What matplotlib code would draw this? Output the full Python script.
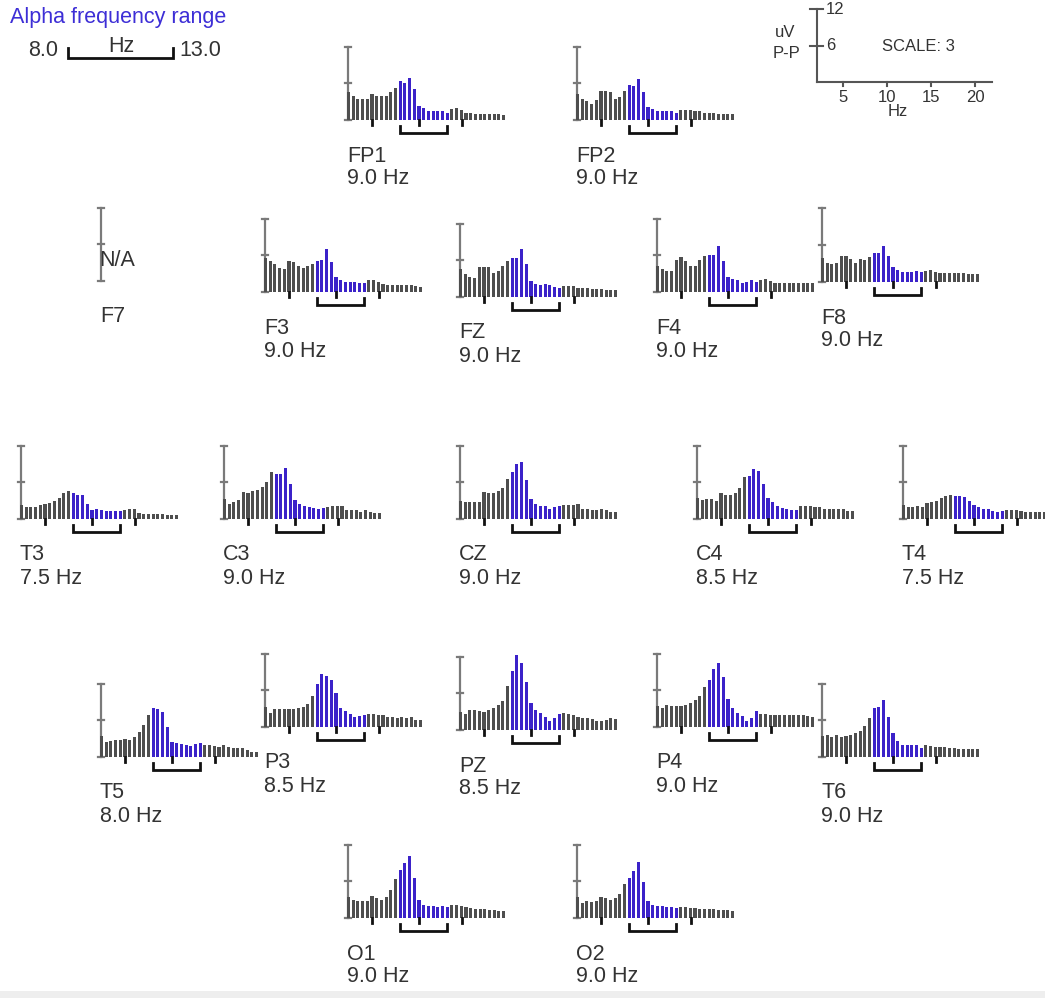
import numpy as np
import matplotlib
matplotlib.use('Agg')
import matplotlib.pyplot as plt

plt.rcParams['font.family'] = ['Liberation Sans', 'DejaVu Sans']

### Spectrum data (uV peak-to-peak per 0.5 Hz bin)
FREQS = np.arange(2.5, 19.01, 0.5)
ALPHA_LO, ALPHA_HI = 8.0, 13.0

FP1 = [4.5, 3.9, 3.5, 3.4, 3.5, 4.3, 4.0, 4.0, 4.0, 4.6, 5.3,
       6.3, 6.0, 6.9, 5.0, 2.3, 1.9, 1.5, 1.5, 1.5, 1.5, 1.2,
       1.8, 1.9, 1.6, 1.2, 1.1, 1.0, 1.0, 1.0, 1.0, 0.9, 0.9, 0.8]
FP2 = [4.3, 3.5, 3.1, 2.6, 3.3, 4.7, 4.7, 4.6, 3.5, 3.8, 4.7,
       5.7, 5.5, 6.7, 4.5, 2.1, 1.8, 1.5, 1.5, 1.5, 1.5, 1.2,
       1.6, 1.7, 1.6, 1.5, 1.4, 1.2, 1.1, 1.1, 1.0, 1.0, 1.0, 1.0]
F3 = [5.6, 5.0, 4.5, 3.9, 3.8, 5.0, 4.9, 4.2, 3.9, 4.2, 4.6,
      5.0, 5.3, 7.0, 4.9, 2.4, 1.9, 1.6, 1.6, 1.6, 1.5, 1.4,
      1.9, 2.0, 1.6, 1.3, 1.2, 1.2, 1.2, 1.2, 1.1, 1.1, 0.9, 0.8]
FZ = [4.5, 3.7, 3.3, 3.1, 4.9, 4.9, 4.9, 3.9, 4.2, 5.0, 5.8,
      6.3, 6.3, 7.9, 5.4, 2.6, 2.2, 1.9, 2.1, 1.9, 1.6, 1.4,
      1.8, 1.8, 1.8, 1.5, 1.4, 1.4, 1.3, 1.3, 1.3, 1.2, 1.2, 1.1]
F4 = [4.2, 3.7, 3.5, 3.5, 5.3, 5.7, 5.1, 4.2, 4.2, 5.3, 5.8,
      6.0, 6.1, 7.5, 5.0, 2.4, 2.2, 1.9, 1.5, 1.7, 1.9, 1.6,
      1.9, 2.1, 1.8, 1.4, 1.4, 1.4, 1.4, 1.4, 1.4, 1.4, 1.4, 1.4]
F8 = [3.9, 3.1, 3.0, 3.1, 4.2, 4.3, 3.8, 3.1, 3.8, 3.6, 4.0,
      4.8, 4.8, 5.8, 4.3, 2.4, 2.0, 1.7, 1.6, 1.6, 1.8, 1.6,
      1.8, 1.9, 1.7, 1.5, 1.5, 1.5, 1.4, 1.4, 1.4, 1.3, 1.3, 1.3]
T3 = [2.3, 1.9, 1.9, 1.9, 2.3, 2.5, 2.6, 3.0, 3.5, 4.2, 4.5,
      4.2, 4.0, 3.9, 2.4, 1.5, 1.6, 1.5, 1.3, 1.3, 1.3, 1.3,
      1.5, 1.6, 1.6, 0.9, 0.8, 0.8, 0.8, 0.8, 0.8, 0.7, 0.7, 0.7]
C3 = [3.2, 2.5, 2.8, 3.1, 4.4, 4.2, 4.5, 4.7, 5.2, 6.1, 7.6,
      7.4, 7.4, 8.4, 5.7, 3.1, 2.5, 2.2, 2.0, 1.8, 1.6, 1.8,
      2.0, 2.1, 2.2, 2.2, 1.4, 1.4, 1.4, 1.2, 1.4, 1.1, 1.0, 1.0]
CZ = [2.9, 2.8, 2.8, 2.8, 2.7, 4.4, 4.3, 4.3, 4.6, 5.0, 6.6,
      7.7, 8.9, 9.3, 6.4, 3.3, 2.5, 2.2, 2.1, 1.7, 1.9, 2.1,
      2.3, 2.3, 2.3, 2.5, 1.6, 1.6, 1.4, 1.4, 1.6, 1.4, 1.1, 1.1]
C4 = [3.4, 3.1, 3.2, 3.3, 2.9, 4.2, 4.0, 4.0, 4.3, 5.1, 6.9,
      7.0, 8.1, 7.9, 5.7, 3.5, 2.8, 2.2, 1.8, 1.6, 1.4, 1.5,
      2.1, 2.1, 2.1, 1.9, 1.9, 1.7, 1.6, 1.6, 1.7, 1.7, 1.3, 1.3]
T4 = [2.3, 2.0, 2.0, 2.2, 2.0, 2.6, 2.8, 3.0, 3.4, 3.7, 3.9,
      3.7, 3.8, 3.6, 3.0, 2.3, 1.9, 1.7, 1.7, 1.3, 1.2, 1.3,
      1.4, 1.4, 1.4, 1.3, 1.2, 1.2, 1.2, 1.1, 1.1, 1.1, 1.0, 1.0]
T5 = [3.5, 2.5, 2.6, 2.7, 2.7, 2.9, 2.8, 3.3, 4.1, 5.2, 6.8,
      8.0, 7.9, 7.4, 4.9, 2.5, 2.3, 2.2, 1.9, 1.8, 2.2, 2.3,
      1.9, 2.0, 1.8, 1.6, 1.9, 1.6, 1.4, 1.5, 1.4, 1.1, 0.8, 0.8]
P3 = [3.3, 2.3, 3.0, 3.0, 3.0, 3.0, 3.0, 3.1, 3.3, 3.7, 5.0,
      7.0, 8.7, 8.3, 7.6, 5.5, 3.1, 2.6, 2.2, 1.6, 1.8, 2.0,
      2.2, 2.2, 2.0, 1.9, 1.7, 1.6, 1.5, 1.6, 1.5, 1.6, 1.2, 1.2]
PZ = [2.9, 2.6, 3.2, 3.2, 3.1, 3.0, 3.3, 3.6, 4.1, 4.8, 7.2,
      9.7, 12.3, 10.9, 7.8, 4.4, 3.3, 2.7, 2.2, 1.5, 2.0, 2.6,
      2.7, 2.6, 2.5, 2.2, 2.0, 1.9, 1.8, 1.5, 1.5, 1.6, 1.9, 1.8]
P4 = [3.4, 3.1, 3.6, 3.5, 3.4, 3.5, 3.6, 3.9, 4.4, 5.0, 6.6,
      7.6, 9.5, 10.4, 8.1, 4.5, 3.1, 2.3, 1.8, 1.0, 1.5, 2.6,
      2.2, 2.1, 2.0, 2.0, 1.9, 1.9, 1.9, 1.9, 1.9, 1.9, 1.8, 1.6]
T6 = [3.5, 3.6, 3.3, 3.6, 3.3, 3.5, 3.6, 3.9, 4.3, 5.0, 6.3,
      8.0, 8.1, 9.3, 6.6, 4.0, 2.6, 2.0, 1.9, 1.9, 1.9, 1.5,
      1.9, 1.8, 1.7, 1.6, 1.6, 1.5, 1.5, 1.3, 1.3, 1.3, 1.3, 1.3]
O1 = [3.5, 3.0, 2.8, 2.7, 2.7, 3.6, 3.3, 2.9, 3.5, 4.5, 6.3,
      7.8, 9.0, 10.2, 6.5, 3.0, 2.2, 2.0, 2.0, 1.8, 2.0, 1.8,
      2.2, 2.2, 2.0, 1.8, 1.6, 1.5, 1.4, 1.4, 1.3, 1.3, 1.2, 1.2]
O2 = [3.5, 2.5, 2.8, 2.6, 2.8, 3.5, 3.3, 3.0, 3.3, 4.0, 5.5,
      6.6, 7.6, 9.1, 5.8, 2.8, 2.2, 2.0, 2.0, 1.8, 1.8, 1.7,
      1.8, 1.8, 1.7, 1.6, 1.5, 1.4, 1.4, 1.4, 1.3, 1.3, 1.3, 1.2]

CHANNELS = ['FP1', 'FP2', 'F3', 'FZ', 'F4', 'F8', 'T3', 'C3', 'CZ', 'C4',
            'T4', 'T5', 'P3', 'PZ', 'P4', 'T6', 'O1', 'O2']
SPECTRA = [FP1, FP2, F3, FZ, F4, F8, T3, C3, CZ, C4,
           T4, T5, P3, PZ, P4, T6, O1, O2]
PEAK_HZ = ['9.0', '9.0', '9.0', '9.0', '9.0', '9.0', '7.5', '9.0', '9.0', '8.5',
           '7.5', '8.0', '8.5', '8.5', '9.0', '9.0', '9.0', '9.0']

### Head layout, pixel position of each panel's origin (axis x, baseline y)
LAYOUT = {
    'FP1': (348, 120), 'FP2': (577, 120),
    'F7': (101, 281), 'F3': (265, 292), 'FZ': (460, 297), 'F4': (657, 292), 'F8': (822, 282),
    'T3': (21, 519), 'C3': (224, 519), 'CZ': (460, 519), 'C4': (697, 519), 'T4': (903, 519),
    'T5': (101, 757), 'P3': (265, 727), 'PZ': (460, 730), 'P4': (657, 727), 'T6': (822, 757),
    'O1': (348, 918), 'O2': (577, 918),
}

W, H = 1045, 998
PX_PER_HZ = 9.4
PANEL_W, PANEL_H = 160, 73.5
X0 = 2.45         # Hz at the vertical scale line
GRAY = '#4e4e4e'
BLUE = '#3b22c9'
AXIS_GRAY = '#7a7a7a'
TEXT = '#333333'
LABEL_SIZE = 15.5

fig = plt.figure(figsize=(W / 100, H / 100), dpi=100)
fig.patch.set_facecolor('white')


def panel_axes(ax_x, base_y):
    ax = fig.add_axes([ax_x / W, 1 - base_y / H, PANEL_W / W, PANEL_H / H])
    ax.set_xlim(X0, X0 + PANEL_W / PX_PER_HZ)
    ax.set_ylim(0, 12)
    ax.axis('off')
    return ax


def scale_line(ax):
    ax.plot([X0, X0], [0, 12], color=AXIS_GRAY, lw=1.6, clip_on=False, zorder=1)
    for yv in (0, 6, 12):
        ax.plot([X0 - 0.3, X0 + 0.3], [yv, yv], color=AXIS_GRAY, lw=1.6,
                clip_on=False, zorder=1)


def labels(ax, lines):
    for off, txt in zip((36, 59), lines):
        ax.annotate(txt, xy=(X0, 0), xycoords='data', xytext=(-1, -off),
                    textcoords='offset pixels', ha='left', va='center',
                    fontsize=LABEL_SIZE, color=TEXT)


def draw_panel(name, values, peak):
    ax = panel_axes(*LAYOUT[name])
    scale_line(ax)
    in_alpha = (FREQS >= ALPHA_LO) & (FREQS <= ALPHA_HI)
    colors = [BLUE if a else GRAY for a in in_alpha]
    ax.bar(FREQS, values, width=0.33, color=colors, clip_on=False, zorder=2)
    for t in (5, 10, 14.6):
        ax.plot([t, t], [0, -0.8], color='#111111', lw=2, clip_on=False)
    ax.plot([ALPHA_LO, ALPHA_LO, ALPHA_HI, ALPHA_HI], [-1.0, -2.15, -2.15, -1.0],
            color='#111111', lw=2, clip_on=False, solid_joinstyle='miter')
    labels(ax, [name, peak + ' Hz'])


for name, vals, pk in zip(CHANNELS, SPECTRA, PEAK_HZ):
    draw_panel(name, vals, pk)

# F7 has no usable data
ax = panel_axes(*LAYOUT['F7'])
scale_line(ax)
ax.annotate('N/A', xy=(X0, 0), xytext=(-2, 21), textcoords='offset pixels',
            ha='left', va='center', fontsize=LABEL_SIZE, color=TEXT)
labels(ax, ['F7', ''])

### Alpha range legend (top left)
fig.text(10 / W, 1 - 17 / H, 'Alpha frequency range', color='#3d2ed6',
         fontsize=15.5, ha='left', va='center')
fig.text(28 / W, 1 - 50 / H, '8.0', color=TEXT, fontsize=LABEL_SIZE, ha='left', va='center')
fig.text(179 / W, 1 - 50 / H, '13.0', color=TEXT, fontsize=LABEL_SIZE, ha='left', va='center')
fig.text(121 / W, 1 - 46 / H, 'Hz', color=TEXT, fontsize=LABEL_SIZE, ha='center', va='center')
leg = fig.add_axes([0, 0, 1, 1])
leg.set_xlim(0, W)
leg.set_ylim(H, 0)
leg.axis('off')
leg.patch.set_alpha(0)
leg.plot([68, 68, 173, 173], [48, 58, 58, 48], color='#111111', lw=2,
         solid_joinstyle='miter')
# faint strip along the bottom edge
leg.axhspan(991, H, color='#eeeeee', lw=0)

### Scale legend (top right)
sc = fig.add_axes([817 / W, 1 - 82 / H, 175 / W, 73 / H])
sc.set_xlim(2.05, 2.05 + 175 / 8.8)
sc.set_ylim(0, 12)
sc.axis('off')
sc.plot([2.05, 2.05], [0, 12], color='#555555', lw=1.5, clip_on=False)
sc.plot([2.05, 2.05 + 175 / 8.8], [0, 0], color='#555555', lw=1.5, clip_on=False)
for yv, lab in ((12, '12'), (6, '6')):
    sc.plot([1.3, 2.75], [yv, yv], color='#555555', lw=1.5, clip_on=False)
    sc.annotate(lab, xy=(2.05, yv), xytext=(9, 0), textcoords='offset pixels',
                ha='left', va='center', fontsize=12, color=TEXT)
for xv in (5, 10, 15, 20):
    sc.plot([xv, xv], [0, -0.7], color='#555555', lw=1.5, clip_on=False)
    sc.annotate(str(xv), xy=(xv, 0), xytext=(0, -16), textcoords='offset pixels',
                ha='center', va='center', fontsize=12, color=TEXT)
sc.annotate('Hz', xy=(11.2, 0), xytext=(0, -29), textcoords='offset pixels',
            ha='center', va='center', fontsize=12, color=TEXT)
sc.annotate('uV', xy=(2.05, 6), xytext=(-42, 13), textcoords='offset pixels',
            ha='left', va='center', fontsize=12, color=TEXT)
sc.annotate('P-P', xy=(2.05, 6), xytext=(-44, -8), textcoords='offset pixels',
            ha='left', va='center', fontsize=12, color=TEXT)
sc.annotate('SCALE: 3', xy=(2.05, 6), xytext=(65, -1), textcoords='offset pixels',
            ha='left', va='center', fontsize=12, color=TEXT)

fig.savefig('out.png', dpi=100, facecolor='white')
